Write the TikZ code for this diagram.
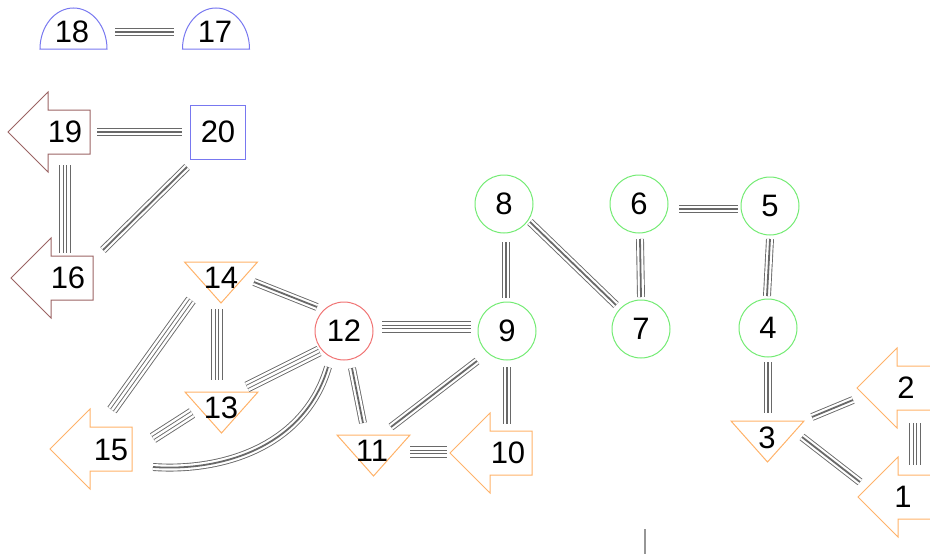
\documentclass[tikz,border=0pt]{standalone}
\usepackage{fontspec}
\setmainfont{Liberation Sans}
\definecolor{ngreen}{RGB}{115,235,115}
\definecolor{nred}{RGB}{240,115,115}
\definecolor{norange}{RGB}{255,178,105}
\definecolor{nblue}{RGB}{120,120,240}
\definecolor{nbrown}{RGB}{155,100,100}
\definecolor{egray}{RGB}{105,105,105}
\tikzset{
  lbl/.style={inner sep=0pt, font=\fontsize{31}{31}\selectfont},
  ring/.style={circle, draw, line width=1pt, minimum size=58pt, inner sep=0pt, font=\fontsize{31}{31}\selectfont},
  outline/.style={line width=1pt, line join=miter},
  % three parallel strands: an outer pair plus a centre line
  tri/.style={draw=egray, line width=0.9pt, double=white, double distance=6.1pt,
    postaction={draw=egray, line width=0.9pt, double distance=0pt, double=egray}},
  % four parallel strands: an outer pair plus an inner pair
  quad/.style={draw=egray, line width=0.9pt, double=white, double distance=9.3pt,
    postaction={draw=egray, line width=0.9pt, double=white, double distance=2.5pt}},
  larrow/.pic={\draw[pic actions] (0,0) -- (40,-40) -- (40,-22) -- (82,-22) -- (82,22) -- (40,22) -- (40,40) -- cycle;},
  dtri/.pic={\draw[pic actions] (-36.5,0) -- (36.5,0) -- (0,41) -- cycle;},
  dome/.pic={\draw[pic actions] (-33.5,0) arc (180:360:33.5 and 41) -- cycle;},
}
\begin{document}
\begin{tikzpicture}[x=1pt,y=-1pt]
\useasboundingbox (0,0) rectangle (930,554);

% outlines of the arrow, triangle and dome shapes
\pic[outline, draw=nblue] at (73.5,49) {dome};
\pic[outline, draw=nblue] at (216,49) {dome};
\pic[outline, draw=nbrown] at (8,132) {larrow};
\pic[outline, draw=nbrown] at (11,278) {larrow};
\pic[outline, draw=norange] at (50,449) {larrow};
\pic[outline, draw=norange] at (450,453) {larrow};
\pic[outline, draw=norange] at (857,388) {larrow};
\pic[outline, draw=norange] at (858,497) {larrow};
\pic[outline, draw=norange] at (221,262) {dtri};
\pic[outline, draw=norange] at (221.5,392) {dtri};
\pic[outline, draw=norange] at (373.5,435) {dtri};
\pic[outline, draw=norange] at (767.5,421) {dtri};

% labelled nodes
\node[lbl] (n18) at (72,32) {18};
\node[lbl] (n17) at (215,32) {17};
\node[lbl] (n19) at (65,132) {19};
\node[draw=nblue, line width=1pt, minimum width=55pt, minimum height=54pt, inner sep=0pt,
      font=\fontsize{31}{31}\selectfont] (n20) at (218,132) {20};
\node[lbl] (n16) at (68,278) {16};
\node[lbl] (n14) at (221,278) {14};
\node[lbl] (n13) at (221,408) {13};
\node[lbl] (n15) at (111,450) {15};
\node[lbl] (n11) at (372,451) {11};
\node[lbl] (n10) at (508,453) {10};
\node[lbl] (n3) at (767,438) {3};
\node[lbl] (n2) at (906,388) {2};
\node[lbl] (n1) at (903,497) {1};
\node[ring, draw=nred] (n12) at (344,331) {12};
\node[ring, draw=ngreen] (n9) at (507,331) {9};
\node[ring, draw=ngreen] (n8) at (504,204) {8};
\node[ring, draw=ngreen] (n6) at (639,204) {6};
\node[ring, draw=ngreen] (n5) at (770,206) {5};
\node[ring, draw=ngreen] (n7) at (641,329) {7};
\node[ring, draw=ngreen] (n4) at (768,328) {4};

% links
\draw[tri]  ([shift={(43,0)}]n18.center) -- ([shift={(-41,0)}]n17.center);
\draw[tri]  ([shift={(32,0)}]n19.center) -- ([shift={(-36,0)}]n20.center);
\draw[quad] ([shift={(0,33)}]n19.center) -- ([shift={(-3,-25)}]n16.center);
\draw[tri]  ([shift={(-31,35)}]n20.center) -- ([shift={(35,-28)}]n16.center);
\draw[tri]  ([shift={(2,38)}]n8.center) -- ([shift={(-1,-33)}]n9.center);
\draw[tri]  ([shift={(26,18)}]n8.center) -- ([shift={(-25,-24)}]n7.center);
\draw[tri]  ([shift={(1,35)}]n6.center) -- ([shift={(0,-32)}]n7.center);
\draw[tri]  ([shift={(40,5)}]n6.center) -- ([shift={(-32,3)}]n5.center);
\draw[tri]  ([shift={(0,33)}]n5.center) -- ([shift={(-1,-32)}]n4.center);
\draw[tri]  ([shift={(0,34)}]n4.center) -- ([shift={(1,-25)}]n3.center);
\draw[tri]  ([shift={(45,-21)}]n3.center) -- ([shift={(-53,12)}]n2.center);
\draw[tri]  ([shift={(35,-1)}]n3.center) -- ([shift={(-43,-15)}]n1.center);
\draw[quad] ([shift={(9,35)}]n2.center) -- ([shift={(12,-32)}]n1.center);
\draw[tri]  ([shift={(33,4)}]n14.center) -- ([shift={(-27,-24)}]n12.center);
\draw[quad] ([shift={(38,-4)}]n12.center) -- ([shift={(-36,-4)}]n9.center);
\draw[tri]  ([shift={(-30,30)}]n9.center) -- ([shift={(19,-24)}]n11.center);
\draw[tri]  ([shift={(0,36)}]n9.center) -- ([shift={(-1,-29)}]n10.center);
\draw[tri]  ([shift={(8,37)}]n12.center) -- ([shift={(-9,-28)}]n11.center);
\draw[quad] ([shift={(38,1)}]n11.center) -- ([shift={(-61,-1)}]n10.center);
\draw[quad] ([shift={(-4,31)}]n14.center) -- ([shift={(-4,-28)}]n13.center);
\draw[quad] ([shift={(-30,22)}]n14.center) -- ([shift={(1,-40)}]n15.center);
\draw[quad] ([shift={(-25,20)}]n12.center) -- ([shift={(26,-21)}]n13.center);
\draw[quad] ([shift={(-29,5)}]n13.center) -- ([shift={(42,-12)}]n15.center);
\draw[tri]  ([shift={(-16,36)}]n12.center) .. controls (305,445) and (225,472) .. ([shift={(42,17)}]n15.center);

% stub entering from the bottom edge
\coordinate (stub) at (645,529);
\draw[egray!70, line width=1.6pt] (stub) -- (645,554);
\end{tikzpicture}
\end{document}
